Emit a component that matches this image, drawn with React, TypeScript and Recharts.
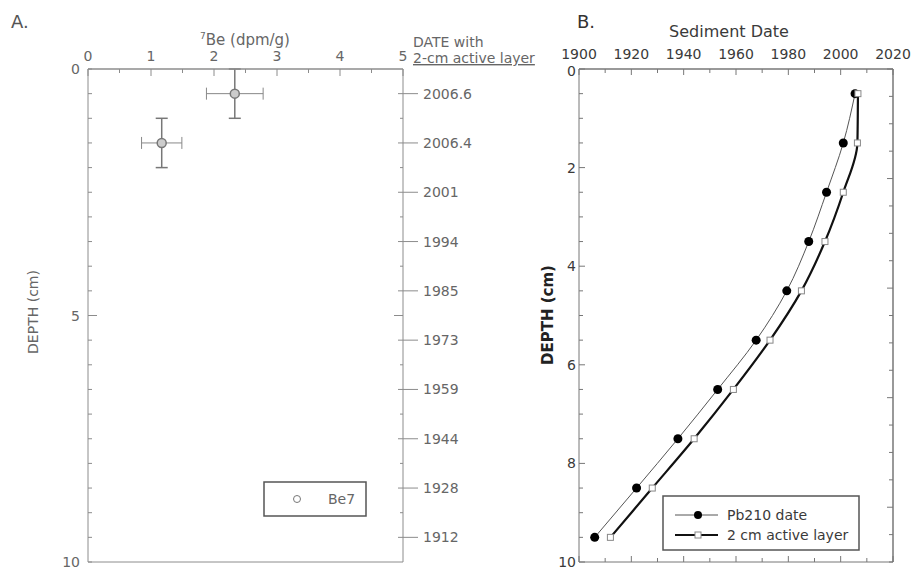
import React from "react";
import { ComposedChart, ScatterChart, Scatter, Line, XAxis, YAxis, ErrorBar } from "recharts";

// depth of each 1 cm slice (midpoint)
const depths = [0.5, 1.5, 2.5, 3.5, 4.5, 5.5, 6.5, 7.5, 8.5, 9.5];
const pb210Date = [2005.5, 2001, 1994.6, 1987.8, 1979.4, 1967.7, 1953, 1937.8, 1922, 1906];
const activeLayerDate = [2006.6, 2006.4, 2001, 1994, 1985, 1973, 1959, 1944, 1928, 1912];

// 7Be activity
const be7Depth = [0.5, 1.5];
const be7Value = [2.33, 1.17];
const be7ValueErr = [0.45, 0.32];
const be7DepthErr = [0.5, 0.5];

const beTicks = [0, 0.5, 1, 1.5, 2, 2.5, 3, 3.5, 4, 4.5, 5];
const beLabels = [0, 1, 2, 3, 4, 5];
const depthTicks = [0, 0.5, 1, 1.5, 2, 2.5, 3, 3.5, 4, 4.5, 5, 5.5, 6, 6.5, 7, 7.5, 8, 8.5, 9, 9.5, 10];
const depthLabelsA = [0, 5, 10];
const depthLabelsB = [0, 2, 4, 6, 8, 10];
const dateAxisTicks = [0.5, 1, 1.5, 2, 2.5, 3, 3.5, 4, 4.5, 5, 5.5, 6, 6.5, 7, 7.5, 8, 8.5, 9, 9.5];
const yearTicks = [1900, 1910, 1920, 1930, 1940, 1950, 1960, 1970, 1980, 1990, 2000, 2010, 2020];
const yearLabels = [1900, 1920, 1940, 1960, 1980, 2000, 2020];

const be7Data = be7Depth.map((d, i) => ({
  depth: d,
  be: be7Value[i],
  beErr: be7ValueErr[i],
  depthErr: be7DepthErr[i],
}));
const sedData = depths.map((d, i) => ({ depth: d, pb: pb210Date[i], active: activeLayerDate[i] }));

const FONT = "'DejaVu Sans', sans-serif";
const AXIS_A = "#8c8c8c";
const TEXT_A = "#666";
const AXIS_B = "#777";
const TEXT_B = "#3a3a3a";

type Side = "top" | "bottom" | "left" | "right";

const makeTick =
  (
    side: Side,
    len: (v: number) => [number, number],
    label: (v: number) => string,
    stroke: string,
    fill: string,
    gap: number,
    dy: (v: number) => number = () => 5
  ) =>
  (props: any) => {
    const { x, y, payload, index } = props;
    const v = payload.value as number;
    const [inner, outer] = len(v);
    const txt = label(v);
    const ts = { fontFamily: FONT, fontSize: 14, fill } as const;
    let line: React.ReactNode;
    let text: React.ReactNode = null;
    if (side === "top") {
      line = <line x1={x} x2={x} y1={y - outer} y2={y + inner} stroke={stroke} />;
      if (txt) text = <text x={x} y={y - gap} textAnchor="middle" {...ts}>{txt}</text>;
    } else if (side === "bottom") {
      line = <line x1={x} x2={x} y1={y + outer} y2={y - inner} stroke={stroke} />;
    } else if (side === "left") {
      line = <line x1={x - outer} x2={x + inner} y1={y} y2={y} stroke={stroke} />;
      if (txt) text = <text x={x - gap} y={y + dy(v)} textAnchor="end" {...ts}>{txt}</text>;
    } else {
      line = <line x1={x + outer} x2={x - inner} y1={y} y2={y} stroke={stroke} />;
      if (txt) text = <text x={x + gap} y={y + dy(v)} textAnchor="start" {...ts}>{txt}</text>;
    }
    return (
      <g key={`t-${index}`}>
        {line}
        {text}
      </g>
    );
  };

const none = () => "";
const halfLen = (v: number): [number, number] => (Number.isInteger(v) ? [7, 0] : [4, 0]);

const dateLabel = (v: number) => {
  const i = depths.indexOf(v);
  return i >= 0 ? String(activeLayerDate[i]) : "";
};

const axisCommon = { tickSize: 0, tickMargin: 0, tickLine: false, interval: 0 as const, allowDataOverflow: true };

const PanelA = () => (
  <ScatterChart width={560} height={570} margin={{ top: 39, right: 100, bottom: 0, left: 58 }}>
    <XAxis
      xAxisId="top"
      orientation="top"
      type="number"
      dataKey="be"
      domain={[0, 5]}
      ticks={beTicks}
      height={30}
      axisLine={{ stroke: AXIS_A, strokeWidth: 1.5 }}
      tick={makeTick("top", halfLen, (v) => (beLabels.includes(v) ? String(v) : ""), AXIS_A, TEXT_A, 8)}
      {...axisCommon}
    />
    <XAxis
      xAxisId="bottom"
      orientation="bottom"
      type="number"
      domain={[0, 5]}
      ticks={beTicks}
      height={8}
      axisLine={{ stroke: AXIS_A }}
      tick={makeTick("bottom", halfLen, none, AXIS_A, TEXT_A, 0)}
      {...axisCommon}
    />
    <YAxis
      yAxisId="left"
      type="number"
      dataKey="depth"
      domain={[0, 10]}
      reversed
      ticks={depthTicks}
      width={30}
      axisLine={{ stroke: AXIS_A }}
      tick={makeTick("left", (v) => (v === 5 ? [9, 0] : [4, 0]), (v) => (depthLabelsA.includes(v) ? String(v) : ""), AXIS_A, TEXT_A, 8)}
      {...axisCommon}
    />
    <YAxis
      yAxisId="right"
      orientation="right"
      type="number"
      domain={[0, 10]}
      reversed
      ticks={dateAxisTicks}
      width={57}
      axisLine={{ stroke: AXIS_A }}
      tick={makeTick("right", (v) => (Number.isInteger(v) ? (v === 5 ? [9, 0] : [3, 0]) : [5, 15]), dateLabel, AXIS_A, TEXT_A, 20)}
      {...axisCommon}
    />
    <Scatter
      data={be7Data}
      xAxisId="top"
      yAxisId="left"
      isAnimationActive={false}
      shape={(p: any) => <circle cx={p.cx} cy={p.cy} r={4.5} fill="#ccc" stroke="#777" strokeWidth={1.5} />}
    >
      <ErrorBar dataKey="beErr" direction="x" width={6} stroke="#888" strokeWidth={1} isAnimationActive={false} />
      <ErrorBar dataKey="depthErr" direction="y" width={6} stroke="#777" strokeWidth={1.5} isAnimationActive={false} />
    </Scatter>
  </ScatterChart>
);

const PanelB = () => (
  <ComposedChart layout="vertical" width={457} height={570} data={sedData} margin={{ top: 39, right: 0, bottom: 0, left: 89 }}>
    <XAxis
      xAxisId="top"
      orientation="top"
      type="number"
      domain={[1900, 2020]}
      ticks={yearTicks}
      height={30}
      axisLine={{ stroke: AXIS_B, strokeWidth: 1.5 }}
      tick={makeTick("top", (v) => (yearLabels.includes(v) ? [6, 0] : [4, 0]), (v) => (yearLabels.includes(v) ? String(v) : ""), AXIS_B, TEXT_B, 10)}
      {...axisCommon}
    />
    <XAxis
      xAxisId="bottom"
      orientation="bottom"
      type="number"
      domain={[1900, 2020]}
      ticks={yearTicks}
      height={8}
      axisLine={{ stroke: AXIS_B }}
      tick={makeTick("bottom", (v) => (yearLabels.includes(v) ? [6, 0] : [4, 0]), none, AXIS_B, TEXT_B, 0)}
      {...axisCommon}
    />
    <YAxis
      yAxisId="left"
      type="number"
      dataKey="depth"
      domain={[0, 10]}
      ticks={depthTicks}
      width={30}
      axisLine={{ stroke: AXIS_B }}
      tick={makeTick(
        "left",
        (v) => (depthLabelsB.includes(v) ? [6, 0] : [4, 0]),
        (v) => (depthLabelsB.includes(v) ? String(v) : ""),
        AXIS_B,
        TEXT_B,
        3,
        (v) => (v === 0 ? 7 : 5)
      )}
      {...axisCommon}
    />
    <YAxis
      yAxisId="right"
      orientation="right"
      type="number"
      domain={[0, 10]}
      ticks={depthTicks}
      width={24}
      axisLine={{ stroke: AXIS_B, strokeWidth: 1.5 }}
      tick={makeTick("right", (v) => (depthLabelsB.includes(v) ? [6, 0] : [4, 0]), none, AXIS_B, TEXT_B, 0)}
      {...axisCommon}
    />
    <Line
      xAxisId="top"
      yAxisId="left"
      dataKey="pb"
      type="monotone"
      stroke="#555"
      strokeWidth={1}
      isAnimationActive={false}
      dot={(p: any) => <circle key={`pb-${p.index}`} cx={p.cx} cy={p.cy} r={4.5} fill="#000" stroke="none" />}
    />
    <Line
      xAxisId="top"
      yAxisId="left"
      dataKey="active"
      type="monotone"
      stroke="#111"
      strokeWidth={2.2}
      isAnimationActive={false}
      dot={(p: any) => (
        <rect key={`ac-${p.index}`} x={p.cx - 3} y={p.cy - 3} width={6} height={6} fill="#fff" stroke="#888" strokeWidth={1} />
      )}
    />
  </ComposedChart>
);

const Overlay = () => (
  <svg width={917} height={570} style={{ position: "absolute", left: 0, top: 0, pointerEvents: "none" }} fontFamily={FONT}>
    <text x={11} y={28} fontSize={18} fill="#555">A.</text>
    <text x={245} y={45} fontSize={15} fill={TEXT_A} textAnchor="middle">
      <tspan fontSize={9} dy={-6}>7</tspan>
      <tspan dy={6}>Be (dpm/g)</tspan>
    </text>
    <text x={413} y={47} fontSize={14} fill={TEXT_A}>DATE with</text>
    <text x={413} y={63} fontSize={14} fill={TEXT_A} textDecoration="underline">2-cm active layer</text>
    <text transform="translate(38,312) rotate(-90)" fontSize={14} fill={TEXT_A} textAnchor="middle">DEPTH (cm)</text>

    {/* legend A */}
    <rect x={264} y={482} width={102} height={34} fill="#fff" stroke="#555" strokeWidth={1.5} />
    <circle cx={297} cy={499} r={3.5} fill="none" stroke="#777" />
    <text x={328} y={504} fontSize={14} fill={TEXT_A}>Be7</text>

    <text x={577} y={28} fontSize={18} fill="#333">B.</text>
    <text x={729} y={37} fontSize={16} fill={TEXT_B} textAnchor="middle">Sediment Date</text>
    <text transform="translate(553,315) rotate(-90)" fontSize={15} fontWeight="bold" fill="#222" textAnchor="middle">DEPTH (cm)</text>

    {/* legend B */}
    <rect x={663} y={496} width={196} height={54} fill="#fff" stroke="#555" strokeWidth={1.5} />
    <line x1={675} x2={718} y1={515} y2={515} stroke="#555" strokeWidth={1} />
    <circle cx={698} cy={515} r={4} fill="#000" />
    <text x={727} y={520} fontSize={14} fill={TEXT_B}>Pb210 date</text>
    <line x1={675} x2={718} y1={535} y2={535} stroke="#111" strokeWidth={2.2} />
    <rect x={695} y={532} width={6} height={6} fill="#fff" stroke="#888" />
    <text x={727} y={540} fontSize={14} fill={TEXT_B}>2 cm active layer</text>
  </svg>
);

export default function App() {
  return (
    <div style={{ position: "absolute", left: 0, top: 0, width: 917, height: 570, background: "#fff", fontFamily: FONT }}>
      <div style={{ position: "absolute", left: 0, top: 0 }}>
        <PanelA />
      </div>
      <div style={{ position: "absolute", left: 460, top: 0 }}>
        <PanelB />
      </div>
      <Overlay />
    </div>
  );
}
